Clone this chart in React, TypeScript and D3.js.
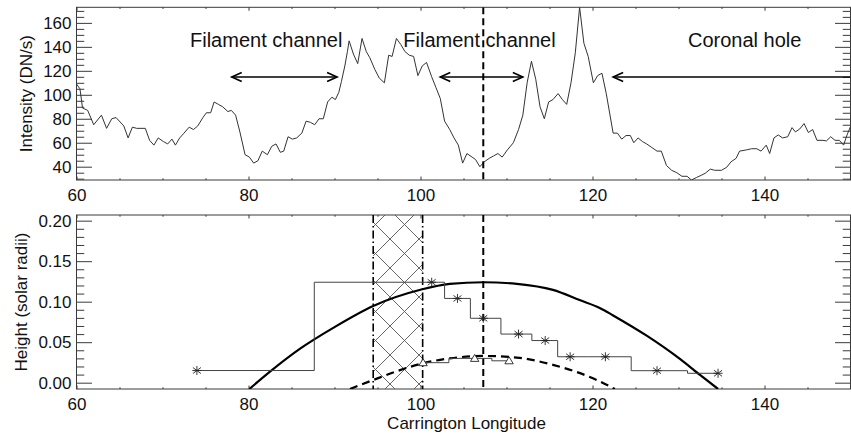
import React, { useRef, useEffect } from 'react';
import * as d3 from 'd3';

// top panel: intensity profile along Carrington longitude
const lonIntensity = [
  60.0, 60.4, 60.7, 61.3, 62.0, 62.9, 63.5, 64.1, 64.6, 65.5, 66.0, 66.5, 67.0, 68.0, 68.5, 69.0,
  69.5, 70.1, 70.6, 71.1, 71.5, 72.0, 72.5, 73.1, 73.6, 74.1, 74.7, 75.1, 75.6, 76.0, 76.5, 77.0,
  77.6, 78.0, 78.5, 79.0, 79.6, 80.1, 80.6, 81.1, 81.6, 82.2, 82.7, 83.2, 83.7, 84.1, 84.6, 85.1,
  85.6, 86.2, 86.7, 87.2, 87.7, 88.2, 88.7, 89.2, 89.7, 90.1, 90.5, 90.8, 91.2, 91.5, 91.7, 92.2,
  92.7, 93.2, 93.7, 94.1, 94.7, 95.2, 95.8, 96.3, 96.7, 97.2, 97.7, 98.2, 98.7, 99.2, 99.7, 100.2,
  100.7, 101.3, 101.8, 102.3, 102.8, 103.4, 103.9, 104.4, 104.9, 105.4, 106.0, 106.4, 106.9, 107.4,
  108.0, 108.5, 109.0, 109.5, 110.1, 110.8, 111.4, 111.9, 112.4, 112.9, 113.4, 113.9, 114.4, 114.9,
  115.4, 116.0, 116.5, 117.0, 117.5, 118.0, 118.5, 119.0, 119.5, 120.1, 120.6, 121.1, 121.6, 122.4,
  122.9, 123.4, 123.9, 124.4, 124.8, 125.3, 125.8, 126.3, 126.9, 127.5, 128.0, 128.6, 129.2, 129.8,
  130.4, 131.0, 131.5, 132.1, 132.7, 133.1, 133.7, 134.2, 135.0, 135.6, 136.1, 136.7, 137.1, 137.9,
  138.5, 139.1, 139.6, 140.2, 140.6, 141.1, 141.6, 142.1, 142.7, 143.2, 143.6, 144.1, 144.6, 145.1,
  145.6, 146.1, 146.8, 147.2, 147.7, 148.2, 148.7, 149.2, 149.6, 150.0,
];
const intensity = [
  109, 105, 89, 87, 75, 83, 72, 80, 81, 74, 64, 73, 72, 72, 62, 58,
  64, 61, 59, 63, 58, 64, 68, 73, 71, 74, 81, 85, 85, 94, 92, 90,
  86, 87, 83, 69, 50, 48, 43, 45, 53, 50, 57, 59, 52, 53, 65, 63,
  64, 68, 78, 77, 75, 80, 80, 94, 98, 96, 102, 111, 124, 136, 145, 134,
  126, 147, 136, 131, 121, 114, 110, 133, 132, 147, 142, 136, 133, 132, 116, 124,
  127, 115, 106, 97, 78, 71, 64, 58, 43, 51, 48, 46, 40, 44,
  47, 49, 51, 48, 54, 60, 71, 83, 110, 128, 113, 90, 80, 94,
  96, 101, 96, 92, 110, 135, 173, 143, 132, 110, 116, 118, 101, 68,
  68, 63, 66, 66, 60, 64, 61, 59, 56, 53, 53, 41, 37, 35,
  32, 32, 28.9, 31, 33, 34.5, 38, 37, 37, 39.5, 44, 47, 53, 54,
  55, 55, 53, 58, 51, 64, 66.5, 64, 65, 72.6, 69, 71.5, 76, 68.5,
  71, 62, 62, 61.5, 65, 62, 62, 58, 66.5, 73.5,
];

// bottom panel: measured heights (asterisks) and second set (triangles)
const heightLon = [74.0, 101.3, 104.3, 107.3, 111.4, 114.5, 117.4, 121.5, 127.5, 134.6];
const heightVal = [0.015, 0.124, 0.104, 0.0795, 0.06, 0.052, 0.032, 0.032, 0.0148, 0.0116];
const triLon = [100.3, 106.3, 110.3];
const triVal = [0.0247, 0.03, 0.027];

// solid arc and dashed dome
const arcLon = [80.1, 82.5, 86.0, 89.9, 94.5, 100.1, 103.4, 107.3, 111.2, 115.4, 118.5, 120.9, 122.4, 126.3, 130.2, 132.5, 134.6];
const arcVal = [-0.0078, 0.0136, 0.042, 0.068, 0.0947, 0.115, 0.122, 0.124, 0.122, 0.1145, 0.102, 0.092, 0.083, 0.058, 0.029, 0.0095, -0.0078];
const domeLon = [91.8, 94.5, 97.2, 100.3, 103.4, 107.3, 111.2, 115.4, 120.5, 122.6];
const domeVal = [-0.0078, 0.0033, 0.014, 0.024, 0.03, 0.033, 0.031, 0.022, 0.0033, -0.0078];

// markers on the longitude axis
const centerLon = 107.3;
const bandLon = [94.5, 100.25];

// annotations (data coordinates of top panel)
const labels = [
  { text: 'Filament channel', lon: 73.2 },
  { text: 'Filament channel', lon: 98.0 },
  { text: 'Coronal hole', lon: 131.1 },
];
const arrows = [
  { from: 78.05, to: 90.3, left: true, right: true },
  { from: 102.3, to: 111.9, left: true, right: true },
  { from: 122.4, to: 150, left: true, right: false },
];
const labelLevel = 140.2;
const arrowLevel = 114.8;

const xTicks = [60, 80, 100, 120, 140];
const topTicks = [40, 60, 80, 100, 120, 140, 160];
const botTicks = [0, 0.05, 0.1, 0.15, 0.2];

const FONT = 'Liberation Sans, Arial, Helvetica, sans-serif';
const AXIS = '#3a3a3a';
const HATCH = 29;

function minorRange(a: number, b: number, step: number, majors: number[]) {
  const out: number[] = [];
  for (let v = a; v <= b + 1e-9; v += step) {
    const r = Math.round(v * 1000) / 1000;
    if (!majors.some(m => Math.abs(m - r) < 1e-6)) out.push(r);
  }
  return out;
}

export default function App() {
  const ref = useRef<SVGSVGElement>(null);

  useEffect(() => {
    if (!ref.current) return;
    const svg = d3.select(ref.current);
    svg.selectAll('*').remove();

    const left = 76.5, right = 850.5;
    const topY = [7.3, 180];
    const botY = [215, 389];

    const x = d3.scaleLinear().domain([60, 150]).range([left, right]);
    const yTop = d3.scaleLinear().domain(d3.extent(intensity) as [number, number]).range([topY[1], topY[0]]);
    const yBot = d3.scaleLinear().domain([-0.0078, 0.207]).range([botY[1], botY[0]]);

    const defs = svg.append('defs');
    defs.append('clipPath').attr('id', 'clipTop').append('rect')
      .attr('x', left).attr('y', topY[0]).attr('width', right - left).attr('height', topY[1] - topY[0]);
    defs.append('clipPath').attr('id', 'clipBot').append('rect')
      .attr('x', left).attr('y', botY[0]).attr('width', right - left).attr('height', botY[1] - botY[0]);
    const pat = defs.append('pattern').attr('id', 'hatch')
      .attr('patternUnits', 'userSpaceOnUse').attr('width', HATCH).attr('height', HATCH)
      .attr('x', 390 - HATCH).attr('y', 239 - HATCH);
    pat.append('path').attr('d', `M0,0L${HATCH},${HATCH}M${HATCH},0L0,${HATCH}`)
      .attr('stroke', '#555').attr('stroke-width', 0.9).attr('fill', 'none');

    const drawAxes = (yScale: d3.ScaleLinear<number, number>, py: number[], majors: number[], minors: number[], fmt: (d: number) => string) => {
      const g = svg.append('g').attr('font-family', FONT);
      const xMinor = minorRange(60, 150, 5, xTicks);
      const tl = 0.02 * (py[1] - py[0]);
      const yl = 0.02 * (right - left);

      const styleAxis = (sel: d3.Selection<SVGGElement, unknown, null, undefined>) => {
        sel.selectAll('path').attr('stroke', AXIS);
        sel.selectAll('line').attr('stroke', AXIS);
        sel.selectAll('text').attr('fill', '#111').attr('font-size', 17).attr('font-family', FONT);
      };

      g.append('g').attr('transform', `translate(0,${py[1]})`)
        .call(d3.axisBottom(x).tickValues(xTicks).tickSizeInner(-tl).tickSizeOuter(0).tickPadding(9).tickFormat(d3.format('d')))
        .call(styleAxis);
      g.append('g').attr('transform', `translate(0,${py[1]})`)
        .call(d3.axisBottom(x).tickValues(xMinor).tickSizeInner(-tl / 2).tickSizeOuter(0).tickFormat(() => ''))
        .call(styleAxis);
      g.append('g').attr('transform', `translate(0,${py[0]})`)
        .call(d3.axisTop(x).tickValues(xTicks).tickSizeInner(-tl).tickSizeOuter(0).tickFormat(() => ''))
        .call(styleAxis);
      g.append('g').attr('transform', `translate(0,${py[0]})`)
        .call(d3.axisTop(x).tickValues(xMinor).tickSizeInner(-tl / 2).tickSizeOuter(0).tickFormat(() => ''))
        .call(styleAxis);

      g.append('g').attr('transform', `translate(${left},0)`)
        .call(d3.axisLeft(yScale).tickValues(majors).tickSizeInner(-yl).tickSizeOuter(0).tickPadding(5).tickFormat(fmt as any))
        .call(styleAxis);
      g.append('g').attr('transform', `translate(${left},0)`)
        .call(d3.axisLeft(yScale).tickValues(minors).tickSizeInner(-yl / 2).tickSizeOuter(0).tickFormat(() => ''))
        .call(styleAxis);
      g.append('g').attr('transform', `translate(${right},0)`)
        .call(d3.axisRight(yScale).tickValues(majors).tickSizeInner(-yl).tickSizeOuter(0).tickFormat(() => ''))
        .call(styleAxis);
      g.append('g').attr('transform', `translate(${right},0)`)
        .call(d3.axisRight(yScale).tickValues(minors).tickSizeInner(-yl / 2).tickSizeOuter(0).tickFormat(() => ''))
        .call(styleAxis);
      g.selectAll('.domain').remove();
      g.append('rect').attr('x', left).attr('y', py[0]).attr('width', right - left).attr('height', py[1] - py[0])
        .attr('fill', 'none').attr('stroke', AXIS).attr('stroke-width', 1);
    };

    drawAxes(yTop, topY, topTicks, minorRange(30, 170, 5, topTicks), d3.format('d'));
    drawAxes(yBot, botY, botTicks, minorRange(0, 0.2, 0.01, botTicks), d3.format('.2f'));

    // ---- top panel ----
    const top = svg.append('g').attr('clip-path', 'url(#clipTop)');
    const profile = d3.line<number>().x((_, i) => x(lonIntensity[i])).y(d => yTop(d));
    top.append('path').attr('d', profile(intensity)).attr('fill', 'none').attr('stroke', '#333').attr('stroke-width', 1);
    top.append('line').attr('x1', x(centerLon)).attr('x2', x(centerLon)).attr('y1', topY[0]).attr('y2', topY[1])
      .attr('stroke', '#000').attr('stroke-width', 2).attr('stroke-dasharray', '7,4');

    arrows.forEach(a => {
      const ya = yTop(arrowLevel), x0 = x(a.from), x1 = x(a.to);
      top.append('line').attr('x1', x0).attr('x2', x1).attr('y1', ya).attr('y2', ya)
        .attr('stroke', '#000').attr('stroke-width', 1.6);
      if (a.left) top.append('path').attr('d', `M${x0 + 10},${ya - 4.5}L${x0},${ya}L${x0 + 10},${ya + 4.5}`)
        .attr('fill', 'none').attr('stroke', '#000').attr('stroke-width', 1.6);
      if (a.right) top.append('path').attr('d', `M${x1 - 10},${ya - 4.5}L${x1},${ya}L${x1 - 10},${ya + 4.5}`)
        .attr('fill', 'none').attr('stroke', '#000').attr('stroke-width', 1.6);
    });
    svg.append('g').selectAll('text').data(labels).enter().append('text')
      .attr('x', d => x(d.lon)).attr('y', yTop(labelLevel))
      .attr('font-family', FONT).attr('font-size', 20).attr('fill', '#111')
      .text(d => d.text);

    // ---- bottom panel ----
    const bot = svg.append('g').attr('clip-path', 'url(#clipBot)');
    bot.append('rect').attr('x', x(bandLon[0])).attr('y', botY[0]).attr('width', x(bandLon[1]) - x(bandLon[0]))
      .attr('height', botY[1] - botY[0]).attr('fill', 'url(#hatch)');
    bandLon.forEach(l => {
      bot.append('line').attr('x1', x(l)).attr('x2', x(l)).attr('y1', botY[0]).attr('y2', botY[1])
        .attr('stroke', '#000').attr('stroke-width', 1.6).attr('stroke-dasharray', '8,3,1.5,3');
    });
    bot.append('line').attr('x1', x(centerLon)).attr('x2', x(centerLon)).attr('y1', botY[0]).attr('y2', botY[1])
      .attr('stroke', '#000').attr('stroke-width', 2).attr('stroke-dasharray', '7,4');

    bot.append('path')
      .attr('d', d3.line<number>().curve(d3.curveMonotoneX).x((_, i) => x(arcLon[i])).y(d => yBot(d))(arcVal))
      .attr('fill', 'none').attr('stroke', '#000').attr('stroke-width', 2.2);
    bot.append('path')
      .attr('d', d3.line<number>().curve(d3.curveMonotoneX).x((_, i) => x(domeLon[i])).y(d => yBot(d))(domeVal))
      .attr('fill', 'none').attr('stroke', '#000').attr('stroke-width', 2.2).attr('stroke-dasharray', '8,5');

    const stepH = d3.line<number>().curve(d3.curveStep).x((_, i) => x(heightLon[i])).y(d => yBot(d));
    bot.append('path').attr('d', stepH(heightVal)).attr('fill', 'none').attr('stroke', '#444').attr('stroke-width', 1);
    const stepT = d3.line<number>().curve(d3.curveStep).x((_, i) => x(triLon[i])).y(d => yBot(d));
    bot.append('path').attr('d', stepT(triVal)).attr('fill', 'none').attr('stroke', '#444').attr('stroke-width', 1);

    bot.selectAll('.star').data(heightVal).enter().append('path')
      .attr('transform', (d, i) => `translate(${x(heightLon[i])},${yBot(d)})`)
      .attr('d', 'M0,-4.5L0,4.5M-4,-3L4,3M-4,3L4,-3M-4.5,0L4.5,0')
      .attr('fill', 'none').attr('stroke', '#222').attr('stroke-width', 0.9);
    bot.selectAll('.tri').data(triVal).enter().append('path')
      .attr('transform', (d, i) => `translate(${x(triLon[i])},${yBot(d)})`)
      .attr('d', 'M0,-4L4.2,3L-4.2,3Z')
      .attr('fill', 'white').attr('stroke', '#222').attr('stroke-width', 0.9);

    // axis titles
    svg.append('text').attr('transform', `translate(32,${(topY[0] + topY[1]) / 2}) rotate(-90)`)
      .attr('text-anchor', 'middle').attr('font-family', FONT).attr('font-size', 17).attr('fill', '#111')
      .text('Intensity (DN/s)');
    svg.append('text').attr('transform', `translate(26.5,${(botY[0] + botY[1]) / 2}) rotate(-90)`)
      .attr('text-anchor', 'middle').attr('font-family', FONT).attr('font-size', 17).attr('fill', '#111')
      .text('Height (solar radii)');
    svg.append('text').attr('x', (left + right) / 2 + 3).attr('y', 429)
      .attr('text-anchor', 'middle').attr('font-family', FONT).attr('font-size', 17).attr('fill', '#111')
      .text('Carrington Longitude');
  });

  return (
    <svg
      ref={ref}
      width={851}
      height={435}
      style={{ position: 'absolute', left: 0, top: 0, background: '#fff' }}
    />
  );
}
